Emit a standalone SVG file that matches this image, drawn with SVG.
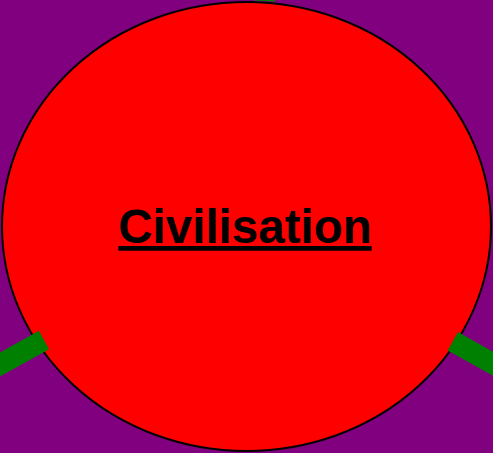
<svg xmlns="http://www.w3.org/2000/svg" width="493" height="453" viewBox="0 0 493 453">
<style>
.bg{fill:#800080}
.node{fill:#ff0000;stroke:#000;stroke-width:2}
.conn{stroke:#008000;stroke-width:21;fill:none}
.label{font-family:"Liberation Sans",Arial,sans-serif;font-weight:bold;font-size:47.5px;fill:#000;text-decoration:underline}
</style>
<rect class="bg" x="0" y="0" width="493" height="453"/>
<g id="civilisation">
<ellipse class="node" cx="246.5" cy="226.5" rx="244.5" ry="224.5"/>
<text class="label" x="245" y="243" text-anchor="middle">Civilisation</text>
</g>
<g id="connectors">
<line class="conn" x1="44" y1="340" x2="-40" y2="386.7"/>
<line class="conn" x1="452.8" y1="341.3" x2="540" y2="389.8"/>
<line class="conn" x1="264.5" y1="1" x2="266" y2="-30"/>
</g>
</svg>
